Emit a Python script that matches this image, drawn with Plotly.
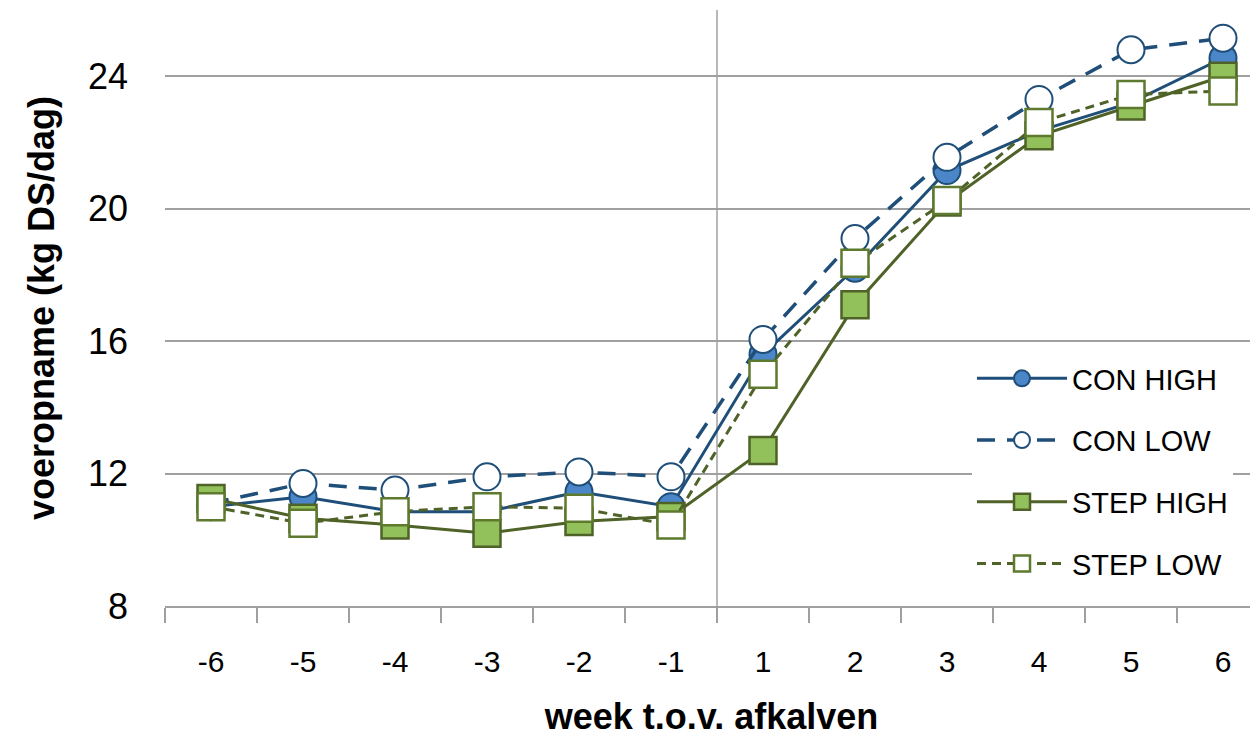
import plotly.graph_objects as go

weeks = ["-6", "-5", "-4", "-3", "-2", "-1", "1", "2", "3", "4", "5", "6"]
con_high = [11.0, 11.3, 10.85, 10.85, 11.45, 11.0, 15.6, 18.2, 21.15, 22.35, 23.2, 24.55]
con_low = [11.1, 11.7, 11.5, 11.9, 12.05, 11.9, 16.05, 19.1, 21.55, 23.3, 24.8, 25.15]
step_high = [11.25, 10.65, 10.45, 10.2, 10.55, 10.7, 12.7, 17.1, 20.2, 22.2, 23.1, 24.0]
step_low = [11.0, 10.5, 10.85, 11.0, 10.95, 10.45, 15.0, 18.35, 20.25, 22.6, 23.45, 23.55]

BLUE_LINE = "#1F4E79"
BLUE_FILL = "#4A86C8"
GREEN_LINE = "#4F6228"
GREEN_FILL = "#92C05A"
GREEN_EDGE_LIGHT = "#5E7A2E"
FONT = "Liberation Sans, Arial, sans-serif"

# the page body adds an 8px offset, so the figure is sized to fill the rest of the window
PAGE_OFF = 8
PLOT_LEFT, PLOT_TOP, PLOT_BOTTOM = 165, 10, 606
W, H = 1258 - PAGE_OFF, 737 - PAGE_OFF
PLOT_W = W - (PLOT_LEFT - PAGE_OFF)
PLOT_H = PLOT_BOTTOM - PLOT_TOP

fig = go.Figure()
fig.add_trace(go.Scatter(
    x=weeks, y=con_high, name="CON HIGH", mode="lines+markers", legendgroup="a",
    line=dict(color=BLUE_LINE, width=3),
    marker=dict(symbol="circle", size=27, color=BLUE_FILL, line=dict(color=BLUE_LINE, width=2))))
fig.add_trace(go.Scatter(
    x=weeks, y=con_low, name="CON LOW", mode="lines+markers", legendgroup="b",
    line=dict(color=BLUE_LINE, width=3.5, dash="18px,12px"),
    marker=dict(symbol="circle", size=27, color="white", line=dict(color=BLUE_LINE, width=2))))
fig.add_trace(go.Scatter(
    x=weeks, y=step_high, name="STEP HIGH", mode="lines+markers", legendgroup="c",
    line=dict(color=GREEN_LINE, width=3),
    marker=dict(symbol="square", size=27, color=GREEN_FILL, line=dict(color=GREEN_LINE, width=2.5))))
fig.add_trace(go.Scatter(
    x=weeks, y=step_low, name="STEP LOW", mode="lines+markers", legendgroup="d",
    line=dict(color=GREEN_LINE, width=3, dash="9px,6px"),
    marker=dict(symbol="square", size=27, color="white", line=dict(color=GREEN_EDGE_LIGHT, width=2.5))))

# vertical separator between week -1 and week 1 (category boundary)
fig.add_shape(type="line", xref="x", yref="paper", x0=5.5, x1=5.5, y0=0, y1=1,
              line=dict(color="#A0A0A0", width=1.5), layer="below")

fig.update_layout(
    width=W, height=H,
    margin=dict(l=PLOT_LEFT - PAGE_OFF, r=0, t=PLOT_TOP - PAGE_OFF,
                b=H - (PLOT_BOTTOM - PAGE_OFF), autoexpand=False),
    paper_bgcolor="white", plot_bgcolor="white",
    font=dict(family=FONT, color="black"),
    showlegend=True,
    legend=dict(
        x=(972 - PLOT_LEFT) / PLOT_W, y=1 - (353 - PLOT_TOP) / PLOT_H,
        xanchor="left", yanchor="top",
        bgcolor="white", borderwidth=0,
        font=dict(size=29, family=FONT, color="black"),
        itemwidth=90, tracegroupgap=21, traceorder="grouped",
    ),
)
fig.update_xaxes(
    type="category", range=[-0.5, -0.5 + PLOT_W / 92], automargin=False,
    showline=True, linecolor="#A0A0A0", linewidth=1.5,
    ticks="outside", tickson="boundaries", ticklen=15, tickwidth=1.5, tickcolor="#A0A0A0",
    showgrid=False, zeroline=False,
    tickfont=dict(size=30, family=FONT),
    ticklabelstandoff=28,
    title=dict(text="<b>week t.o.v. afkalven</b>", font=dict(size=36), standoff=36),
)
fig.update_yaxes(
    range=[8, 26], tick0=0, dtick=4, automargin=False,
    showline=False, ticks="", showgrid=True, gridcolor="#A0A0A0", gridwidth=1.5,
    zeroline=False,
    tickfont=dict(size=36, family=FONT),
    ticklabelstandoff=36,
    title=dict(text="<b>voeropname (kg DS/dag)</b>", font=dict(size=36), standoff=22),
)

fig.write_html("out.html")
